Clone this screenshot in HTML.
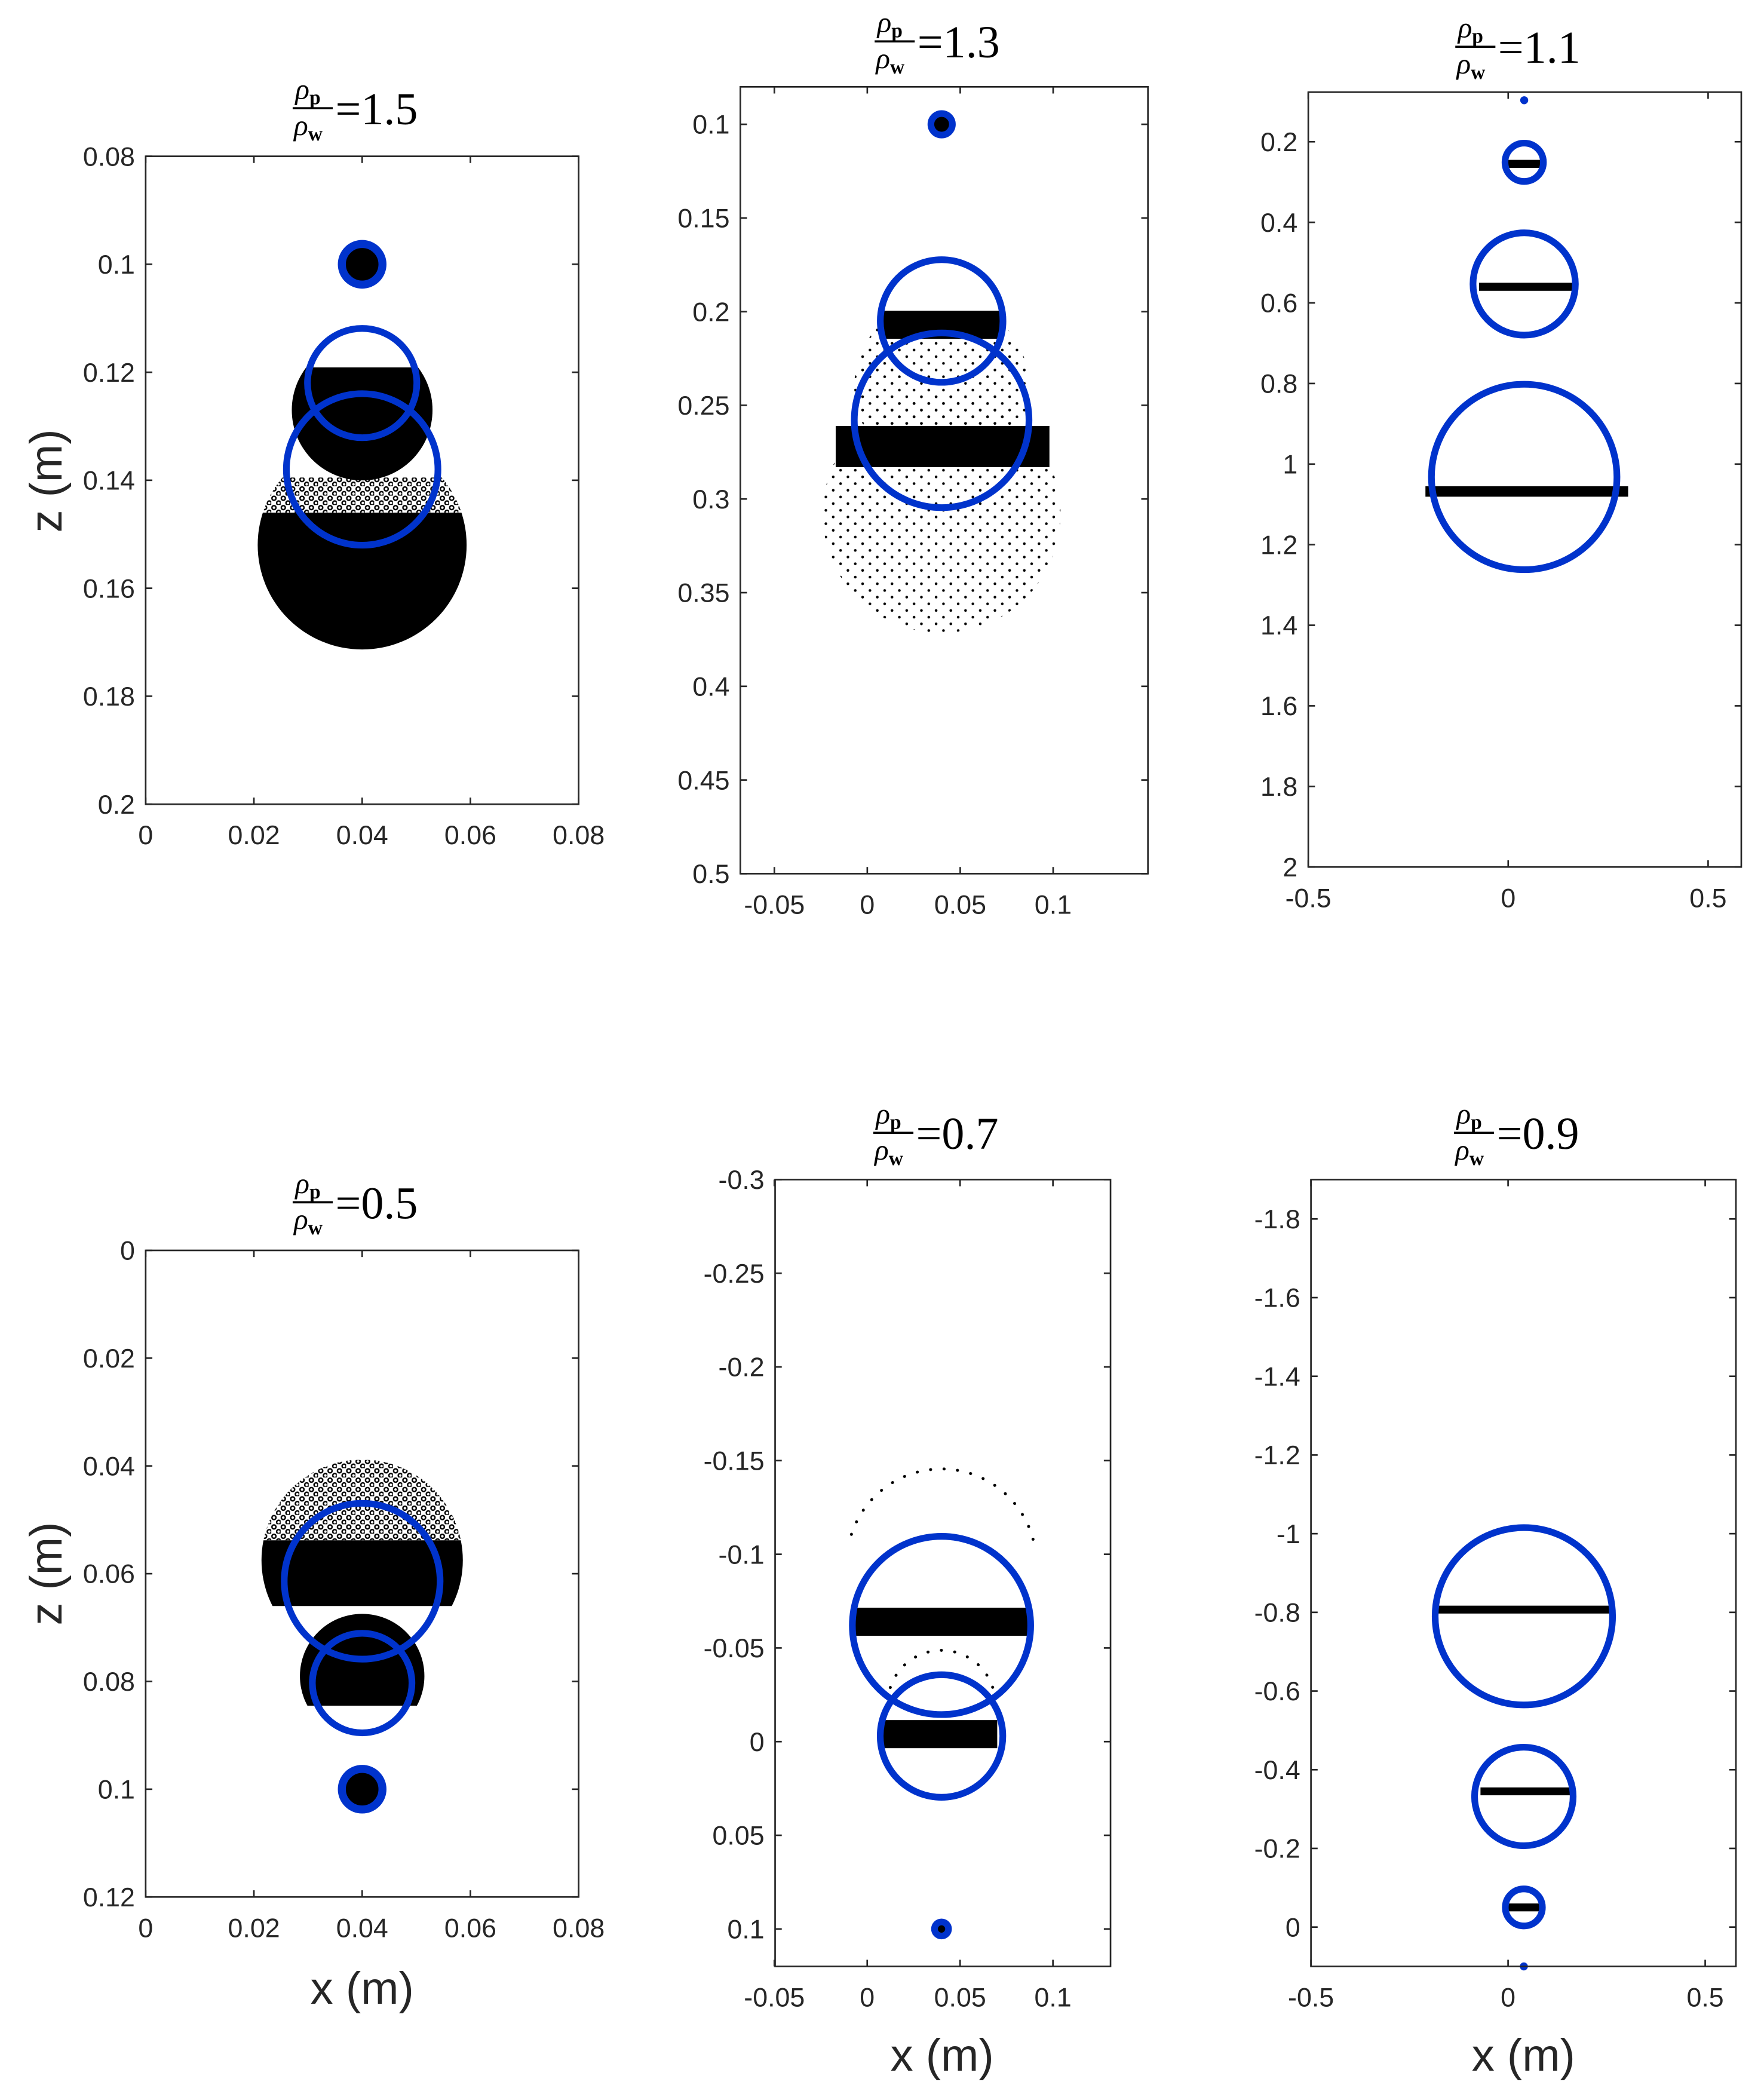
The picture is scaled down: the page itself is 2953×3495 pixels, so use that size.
<!DOCTYPE html>
<html><head><meta charset="utf-8">
<style>
html,body{margin:0;padding:0;background:#fff;}
svg{display:block;}
.tick{font-family:"Liberation Sans",sans-serif;font-size:20px;fill:#262626;}
.lab{font-family:"Liberation Sans",sans-serif;font-size:34px;fill:#262626;}
.ttl{font-family:"Liberation Serif",serif;fill:#000;}
</style></head>
<body>
<svg id="fig" xmlns="http://www.w3.org/2000/svg" width="2953" height="3495" viewBox="0 0 1320 1563" preserveAspectRatio="none">
<defs>
<pattern id="sparse" width="11" height="10" patternUnits="userSpaceOnUse">
<circle cx="2" cy="2" r="1" fill="#000"/><circle cx="7.5" cy="7" r="1" fill="#000"/>
</pattern>
<pattern id="rings" width="7" height="7" patternUnits="userSpaceOnUse">
<circle cx="2" cy="2" r="1.5" fill="none" stroke="#000" stroke-width="1.1"/><circle cx="5.5" cy="5.5" r="1.5" fill="none" stroke="#000" stroke-width="1.1"/>
</pattern>
</defs>
</svg>
<script>
// ---- Panel data (x, z in metres) ----
const p1Title = "1.5";
const p1XTicks = [0, 0.02, 0.04, 0.06, 0.08];
const p1ZTicks = [0.08, 0.1, 0.12, 0.14, 0.16, 0.18, 0.2];
const p1CircleX = [0.04, 0.04, 0.04];
const p1CircleZ = [0.1, 0.122, 0.138];
const p1CircleR = [0.004, 0.0101, 0.014];
const p1CloudX = [0.04, 0.04, 0.04];
const p1CloudZ = [0.127, 0.152, 0.152];
const p1CloudR = [0.013, 0.0193, 0.0193];
const p1CloudTop = [0.1191, 0.1395, 0.146];
const p1CloudBottom = [0.2, 0.146, 0.2];
const p1CloudFill = ["solid", "rings", "solid"];

const p2Title = "1.3";
const p2XTicks = [-0.05, 0, 0.05, 0.1];
const p2ZTicks = [0.1, 0.15, 0.2, 0.25, 0.3, 0.35, 0.4, 0.45, 0.5];
const p2CircleX = [0.04, 0.04, 0.04];
const p2CircleZ = [0.1, 0.205, 0.258];
const p2CircleR = [0.0065, 0.033, 0.047];
const p2CloudX = [0.04, 0.04, 0.04];
const p2CloudZ = [0.308, 0.24, 0.1];
const p2CloudR = [0.064, 0.047, 0.004];
const p2CloudTop = [0.245, 0.205, 0.09];
const p2CloudBottom = [0.5, 0.26, 0.11];
const p2CloudFill = ["sparse", "sparse", "solid"];
const p2BandZ = [0.207, 0.272];
const p2BandH = [0.015, 0.022];
const p2BandL = [0.008, -0.017];
const p2BandR = [0.073, 0.098];

const p3Title = "1.1";
const p3XTicks = [-0.5, 0, 0.5];
const p3ZTicks = [0.2, 0.4, 0.6, 0.8, 1, 1.2, 1.4, 1.6, 1.8, 2];
const p3CircleX = [0.04, 0.04, 0.04, 0.04];
const p3CircleZ = [0.097, 0.251, 0.553, 1.032];
const p3CircleR = [0.008, 0.048, 0.128, 0.232];
const p3BandZ = [0.255, 0.56, 1.068];
const p3BandH = [0.02, 0.02, 0.026];
const p3BandL = [-0.005, -0.073, -0.207];
const p3BandR = [0.085, 0.17, 0.3];

const p4Title = "0.5";
const p4XTicks = [0, 0.02, 0.04, 0.06, 0.08];
const p4ZTicks = [0, 0.02, 0.04, 0.06, 0.08, 0.1, 0.12];
const p4CircleX = [0.04, 0.04, 0.04];
const p4CircleZ = [0.1, 0.0614, 0.0803];
const p4CircleR = [0.004, 0.0144, 0.0092];
const p4CloudX = [0.04, 0.04, 0.04];
const p4CloudZ = [0.0575, 0.0575, 0.079];
const p4CloudR = [0.0186, 0.0186, 0.0115];
const p4CloudTop = [0.0389, 0.0538, 0.0674];
const p4CloudBottom = [0.0538, 0.066, 0.0845];
const p4CloudFill = ["rings", "solid", "solid"];

const p5Title = "0.7";
const p5XTicks = [-0.05, 0, 0.05, 0.1];
const p5ZTicks = [-0.3, -0.25, -0.2, -0.15, -0.1, -0.05, 0, 0.05, 0.1];
const p5CircleX = [0.04, 0.04, 0.04];
const p5CircleZ = [0.1, -0.062, -0.003];
const p5CircleR = [0.0045, 0.048, 0.033];
const p5BandZ = [-0.064, -0.004];
const p5BandH = [0.015, 0.015];
const p5BandL = [-0.007, 0.007];
const p5BandR = [0.088, 0.07];
const p5ArcX = [0.04, 0.04];
const p5ArcZ = [-0.095, -0.02];
const p5ArcR = [0.051, 0.029];

const p6Title = "0.9";
const p6XTicks = [-0.5, 0, 0.5];
const p6ZTicks = [-1.8, -1.6, -1.4, -1.2, -1, -0.8, -0.6, -0.4, -0.2, 0];
const p6CircleX = [0.04, 0.04, 0.04, 0.04];
const p6CircleZ = [-0.79, -0.332, -0.05, 0.1];
const p6CircleR = [0.225, 0.125, 0.047, 0.008];
const p6BandZ = [-0.807, -0.345, -0.05];
const p6BandH = [0.02, 0.02, 0.02];
const p6BandL = [-0.186, -0.07, -0.005];
const p6BandR = [0.264, 0.165, 0.085];

const NS = "http://www.w3.org/2000/svg";
const svg = document.getElementById('fig');
const BLUE = "#0033cc";
let clipId = 0;

function mk(tag, attrs, parent) {
  const e = document.createElementNS(NS, tag);
  for (const k in attrs) e.setAttribute(k, attrs[k]);
  (parent || svg).appendChild(e);
  return e;
}
function fmt(v) { return String(v); }

function panel(name, box, xlim, zlim, xticks, zticks, title, titleY) {
  const [x0, y0, x1, y1] = box;
  const g = mk('g', {});
  
  
  const sx = v => x0 + (v - xlim[0]) / (xlim[1] - xlim[0]) * (x1 - x0);
  const sz = v => y0 + (v - zlim[0]) / (zlim[1] - zlim[0]) * (y1 - y0);
  const sr = r => r / (xlim[1] - xlim[0]) * (x1 - x0);
  const cp = 'clip' + (clipId++);
  const c = mk('clipPath', { id: cp }, g);
  mk('rect', { x: x0, y: y0 - 4, width: x1 - x0, height: y1 - y0 + 8 }, c);
  const plot = mk('g', { 'clip-path': 'url(#' + cp + ')' }, g);
  
  
  const frame = mk('rect', { x: x0, y: y0, width: x1 - x0, height: y1 - y0, fill: 'none', stroke: '#262626', 'stroke-width': 1.2 }, g);
  
  
  xticks.forEach(v => {
    const X = sx(v);
    mk('line', { x1: X, y1: y1, x2: X, y2: y1 - 5, stroke: '#262626', 'stroke-width': 1.2 }, g);
    mk('line', { x1: X, y1: y0, x2: X, y2: y0 + 5, stroke: '#262626', 'stroke-width': 1.2 }, g);
    const t = mk('text', { x: X, y: y1 + 30, 'text-anchor': 'middle', class: 'tick' }, g);
    t.textContent = fmt(v);
    
    
  });
  zticks.forEach(v => {
    const Y = sz(v);
    mk('line', { x1: x0, y1: Y, x2: x0 + 5, y2: Y, stroke: '#262626', 'stroke-width': 1.2 }, g);
    mk('line', { x1: x1, y1: Y, x2: x1 - 5, y2: Y, stroke: '#262626', 'stroke-width': 1.2 }, g);
    const t = mk('text', { x: x0 - 8, y: Y + 7, 'text-anchor': 'end', class: 'tick' }, g);
    t.textContent = fmt(v);
    
    
  });
  const cx = (x0 + x1) / 2;
  const tg = mk('g', {}, g);
  
  
  const tp = mk('text', { x: cx - 50, y: titleY - 8, class: 'ttl', 'font-size': 22, 'font-style': 'italic' }, tg);
  tp.textContent = 'ρ';
  const tps = mk('tspan', { 'font-size': 15, 'font-style': 'normal', 'font-weight': 'bold', dy: 4 }, tp);
  tps.textContent = 'p';
  mk('line', { x1: cx - 52, y1: titleY - 1, x2: cx - 22, y2: titleY - 1, stroke: '#000', 'stroke-width': 1.6 }, tg);
  const tw = mk('text', { x: cx - 51, y: titleY + 19, class: 'ttl', 'font-size': 22, 'font-style': 'italic' }, tg);
  tw.textContent = 'ρ';
  const tws = mk('tspan', { 'font-size': 15, 'font-style': 'normal', 'font-weight': 'bold', dy: 4 }, tw);
  tws.textContent = 'w';
  const tv = mk('text', { x: cx - 20, y: titleY + 11, class: 'ttl', 'font-size': 34 }, tg);
  tv.textContent = '=' + title;
  return { plot, sx, sz, sr };
}

function clouds(P, X, Z, R, T, B, F, name) {
  for (let i = 0; i < X.length; i++) {
    const id = 'cc' + (clipId++);
    const c = mk('clipPath', { id: id }, P.plot);
    mk('rect', { x: 0, y: P.sz(T[i]), width: 1320, height: P.sz(B[i]) - P.sz(T[i]) }, c);
    const fill = F[i] === 'solid' ? '#000' : (F[i] === 'rings' ? 'url(#rings)' : 'url(#sparse)');
    const e = mk('circle', { cx: P.sx(X[i]), cy: P.sz(Z[i]), r: P.sr(R[i]), fill: fill, 'clip-path': 'url(#' + id + ')' }, P.plot);
    
    
  }
}
function bands(P, Zc, H, L, R, name) {
  for (let i = 0; i < Zc.length; i++) {
    const y0 = P.sz(Zc[i] - H[i] / 2), y1 = P.sz(Zc[i] + H[i] / 2);
    const e = mk('rect', { x: P.sx(L[i]), y: Math.min(y0, y1), width: P.sx(R[i]) - P.sx(L[i]), height: Math.max(3, Math.abs(y1 - y0)), fill: '#000' }, P.plot);
    
    
  }
}
function rings(P, X, Z, R, name) {
  for (let i = 0; i < X.length; i++) {
    const r = P.sr(R[i]);
    let e;
    if (r < 4) {
      e = mk('circle', { cx: P.sx(X[i]), cy: P.sz(Z[i]), r: 3, fill: BLUE }, P.plot);
    } else if (R[i] < 0.007) {
      e = mk('circle', { cx: P.sx(X[i]), cy: P.sz(Z[i]), r: r - 1, fill: '#000', stroke: BLUE, 'stroke-width': r < 12 ? 5 : 6 }, P.plot);
    } else {
      e = mk('circle', { cx: P.sx(X[i]), cy: P.sz(Z[i]), r: r, fill: 'none', stroke: BLUE, 'stroke-width': 5 }, P.plot);
    }
    
    
  }
}

const P1 = panel('panel-rho-1-5', [109, 117, 433, 602], [0, 0.08], [0.08, 0.2], p1XTicks, p1ZTicks, p1Title, 82);
clouds(P1, p1CloudX, p1CloudZ, p1CloudR, p1CloudTop, p1CloudBottom, p1CloudFill, 'p1');
rings(P1, p1CircleX, p1CircleZ, p1CircleR, 'p1');

const P2 = panel('panel-rho-1-3', [554, 65, 859, 654], [-0.0683, 0.151], [0.08, 0.5], p2XTicks, p2ZTicks, p2Title, 32);
clouds(P2, p2CloudX, p2CloudZ, p2CloudR, p2CloudTop, p2CloudBottom, p2CloudFill, 'p2');
bands(P2, p2BandZ, p2BandH, p2BandL, p2BandR, 'p2');
rings(P2, p2CircleX, p2CircleZ, p2CircleR, 'p2');

const P3 = panel('panel-rho-1-1', [979, 69, 1303, 649], [-0.5, 0.583], [0.077, 2], p3XTicks, p3ZTicks, p3Title, 36);
bands(P3, p3BandZ, p3BandH, p3BandL, p3BandR, 'p3');
rings(P3, p3CircleX, p3CircleZ, p3CircleR, 'p3');

const P4 = panel('panel-rho-0-5', [109, 936, 433, 1420], [0, 0.08], [0, 0.12], p4XTicks, p4ZTicks, p4Title, 901);
clouds(P4, p4CloudX, p4CloudZ, p4CloudR, p4CloudTop, p4CloudBottom, p4CloudFill, 'p4');
rings(P4, p4CircleX, p4CircleZ, p4CircleR, 'p4');

const P5 = panel('panel-rho-0-7', [580, 883, 831, 1472], [-0.0496, 0.131], [-0.3, 0.12], p5XTicks, p5ZTicks, p5Title, 849);
for (let i = 0; i < p5ArcX.length; i++) {
  const r = P5.sr(p5ArcR[i]), cx = P5.sx(p5ArcX[i]), cy = P5.sz(p5ArcZ[i]);
  const a0 = Math.PI * 1.1, a1 = Math.PI * 1.95;
  const d = `M${cx + r * Math.cos(a0)},${cy + r * Math.sin(a0)} A${r},${r} 0 0 1 ${cx + r * Math.cos(a1)},${cy + r * Math.sin(a1)}`;
  const e = mk('path', { d: d, fill: 'none', stroke: '#000', 'stroke-width': 2.2, 'stroke-dasharray': '0.1 10', 'stroke-linecap': 'round' }, P5.plot);
  
  
}
bands(P5, p5BandZ, p5BandH, p5BandL, p5BandR, 'p5');
rings(P5, p5CircleX, p5CircleZ, p5CircleR, 'p5');

const P6 = panel('panel-rho-0-9', [981, 883, 1299, 1472], [-0.5, 0.578], [-1.9, 0.1], p6XTicks, p6ZTicks, p6Title, 849);
bands(P6, p6BandZ, p6BandH, p6BandL, p6BandR, 'p6');
rings(P6, p6CircleX, p6CircleZ, p6CircleR, 'p6');

function label(txt, x, y, rot, name) {
  const t = mk('text', { x: x, y: y, 'text-anchor': 'middle', class: 'lab' });
  if (rot) t.setAttribute('transform', `rotate(-90 ${x} ${y})`);
  t.textContent = txt;
  
  
}
label('z (m)', 46, 360, true, 'z-axis-title-top');
label('z (m)', 46, 1178, true, 'z-axis-title-bottom');
label('x (m)', 271, 1500, false, 'x-axis-title-left');
label('x (m)', 705, 1550, false, 'x-axis-title-middle');
label('x (m)', 1140, 1550, false, 'x-axis-title-right');
</script>
</body></html>
